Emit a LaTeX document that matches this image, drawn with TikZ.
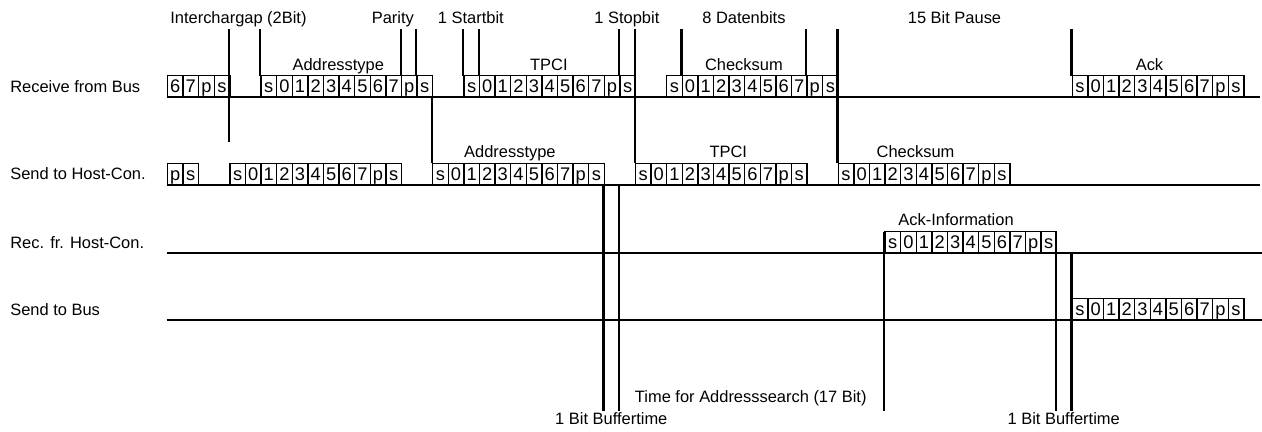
\documentclass[tikz,border=0pt]{standalone}
\usepackage{fontspec}
\setmainfont{Liberation Sans}

% one character on the line: start bit, 8 data bits, parity, stop bit
\newcommand{\charbits}[3]{%
  \foreach \lbl [count=\i from 0] in {s,0,1,2,3,4,5,6,7,p,s}
    \node[bitcell] (#1-\i) at ({#2+\i},#3) {\lbl};
}

\tikzset{
  bitcell/.style={draw, line width=1pt, anchor=south west, inner sep=0pt,
    minimum width=0.39cm, minimum height=0.525cm, text height=9.3pt, text depth=0pt,
    font=\fontsize{13}{15}\selectfont},
  txt/.style={inner sep=0pt, font=\fontsize{11.7}{13}\selectfont},
  framelabel/.style={txt, anchor=base},
  rowlabel/.style={txt, anchor=west},
  busline/.style={line width=1.5pt},
  marker/.style={line width=1.5pt},
}

\begin{document}
\begin{tikzpicture}[x=0.39cm, y=-0.025cm]
    \useasboundingbox (-10.686,0) rectangle (70.212,432);

    % row names
    \node[rowlabel] (rxbus)   at (-10.04,86.5)  {Receive from Bus};
    \node[rowlabel] (txhost)  at (-10.04,174)   {Send to Host-Con.};
    \node[rowlabel] (rxhost)  at (-10.04,242.5) {Rec. fr. Host-Con.};
    \node[rowlabel] (txbus)   at (-10.04,309.5) {Send to Bus};

    % base lines
    \draw[busline] (0,97)  -- (70.1,97);
    \draw[busline] (0,185) -- (70.1,185);
    \draw[busline] (0,253) -- (70.2,253);
    \draw[busline] (0,320) -- (70.2,320);

    % Receive from Bus
    \foreach \lbl [count=\i from 0] in {6,7,p,s}
        \node[bitcell] (rxprev-\i) at (\i,97) {\lbl};
    \charbits{rxaddr}{6}{97}
    \charbits{rxtpci}{19}{97}
    \charbits{rxsum}{32}{97}
    \charbits{rxack}{58}{97}
    \node[framelabel] (rxaddr-lbl) at (11,71)   {Addresstype};
    \node[framelabel] (rxtpci-lbl) at (24.5,71) {TPCI};
    \node[framelabel] (rxsum-lbl)  at (37,71)   {Checksum};
    \node[framelabel] (rxack-lbl)  at (63,71)   {Ack};

    % Send to Host-Con.
    \foreach \lbl [count=\i from 0] in {p,s}
        \node[bitcell] (txprev-\i) at (\i,185) {\lbl};
    \charbits{txlast}{4}{185}
    \charbits{txaddr}{17}{185}
    \charbits{txtpci}{30}{185}
    \charbits{txsum}{43}{185}
    \node[framelabel] (txaddr-lbl) at (22,158) {Addresstype};
    \node[framelabel] (txtpci-lbl) at (36,158) {TPCI};
    \node[framelabel] (txsum-lbl)  at (48,158) {Checksum};

    % Rec. fr. Host-Con.
    \charbits{hostack}{46}{253}
    \node[framelabel] (hostack-lbl) at (50.6,226) {Ack-Information};

    % Send to Bus
    \charbits{busack}{58}{320}

    % markers above the bus frame
    \foreach \b in {6,15,16,19,20,29,33,41,58}
        \draw[marker] (\b,29) -- (\b,76);
    \draw[marker] (4,29)  -- (4,142);
    \draw[marker] (17,97) -- (17,163);
    \draw[marker] (30,29) -- (30,163);
    \draw[marker] (43,29) -- (43,163);

    % markers down to the time notes
    \foreach \b in {28,29}
        \draw[marker] (\b,185) -- (\b,411);
    \foreach \b in {46,57}
        \draw[marker] (\b,232) -- (\b,411);
    \draw[marker] (58,253) -- (58,411);

    % notes on top
    \node[framelabel] (gap)    at (4.6,24)  {Interchargap (2Bit)};
    \node[framelabel] (parity) at (14.5,24) {Parity};
    \node[framelabel] (start)  at (19.5,24) {1 Startbit};
    \node[framelabel] (stop)   at (29.5,24) {1 Stopbit};
    \node[framelabel] (data)   at (37,24)   {8 Datenbits};
    \node[framelabel] (pause)  at (50.5,24) {15 Bit Pause};

    % notes at the bottom
    \node[framelabel] (buf1)   at (28.5,425) {1 Bit Buffertime};
    \node[framelabel] (buf2)   at (57.5,425) {1 Bit Buffertime};
    \node[framelabel, anchor=base west] (search) at (30,403) {Time for Addresssearch (17 Bit)};
\end{tikzpicture}
\end{document}
